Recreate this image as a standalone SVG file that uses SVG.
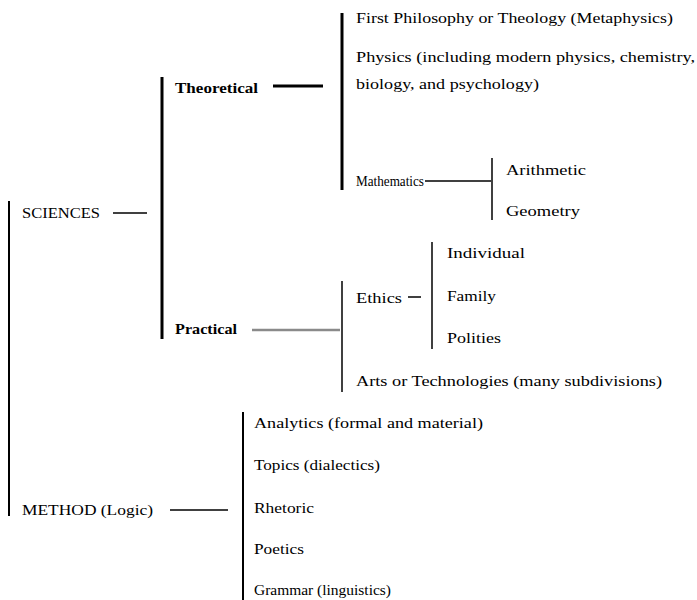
<svg xmlns="http://www.w3.org/2000/svg" width="697" height="600" viewBox="0 0 697 600">
<style>
text{font-family:"Liberation Serif","DejaVu Serif",serif;font-size:15px;fill:#000}
.b{font-weight:bold}
.k{stroke:#000;fill:none}
.t3{stroke-width:3}
.t2{stroke-width:2}
.t15{stroke-width:1.5}
.g{stroke:#8a8a8a;stroke-width:2.5;fill:none}
</style>
<rect width="697" height="600" fill="#fff"/>
<g id="connectors">
<line class="k t2" x1="9" y1="201" x2="9" y2="516"/>
<line class="k t15" x1="113" y1="213" x2="147" y2="213"/>
<line class="k t3" x1="162" y1="77" x2="162" y2="339"/>
<line class="k t3" x1="273" y1="86" x2="323" y2="86"/>
<line class="g" x1="252" y1="330" x2="340" y2="330"/>
<line class="k t3" x1="342" y1="13" x2="342" y2="190"/>
<line class="k t15" x1="425" y1="181" x2="491" y2="181"/>
<line class="k t15" x1="492" y1="158" x2="492" y2="220"/>
<line class="k t15" x1="342" y1="281" x2="342" y2="392"/>
<line class="k t15" x1="408" y1="297" x2="421" y2="297"/>
<line class="k t15" x1="432" y1="242" x2="432" y2="349"/>
<line class="k t15" x1="170" y1="510" x2="228" y2="510"/>
<line class="k t2" x1="243" y1="412" x2="243" y2="600"/>
</g>
<g id="sciences"><text x="22" y="218" textLength="78" lengthAdjust="spacingAndGlyphs">SCIENCES</text></g>
<g id="theoretical"><text class="b" x="175" y="93" textLength="83" lengthAdjust="spacingAndGlyphs">Theoretical</text></g>
<g id="practical"><text class="b" x="175" y="334" textLength="62" lengthAdjust="spacingAndGlyphs">Practical</text></g>
<g id="metaphysics"><text x="356" y="23" textLength="317" lengthAdjust="spacingAndGlyphs">First Philosophy or Theology (Metaphysics)</text></g>
<g id="physics"><text x="356" y="62" textLength="339" lengthAdjust="spacingAndGlyphs">Physics (including modern physics, chemistry,</text><text x="356" y="89" textLength="183" lengthAdjust="spacingAndGlyphs">biology, and psychology)</text></g>
<g id="mathematics"><text x="356" y="186" textLength="68" lengthAdjust="spacingAndGlyphs">Mathematics</text></g>
<g id="arithmetic"><text x="506" y="175" textLength="80" lengthAdjust="spacingAndGlyphs">Arithmetic</text></g>
<g id="geometry"><text x="506" y="216" textLength="74" lengthAdjust="spacingAndGlyphs">Geometry</text></g>
<g id="ethics"><text x="356" y="303" textLength="46" lengthAdjust="spacingAndGlyphs">Ethics</text></g>
<g id="individual"><text x="447" y="258" textLength="78" lengthAdjust="spacingAndGlyphs">Individual</text></g>
<g id="family"><text x="447" y="301" textLength="49" lengthAdjust="spacingAndGlyphs">Family</text></g>
<g id="polities"><text x="447" y="343" textLength="54" lengthAdjust="spacingAndGlyphs">Polities</text></g>
<g id="arts"><text x="356" y="386" textLength="306" lengthAdjust="spacingAndGlyphs">Arts or Technologies (many subdivisions)</text></g>
<g id="method"><text x="22" y="515" textLength="131" lengthAdjust="spacingAndGlyphs">METHOD (Logic)</text></g>
<g id="analytics"><text x="254" y="428" textLength="229" lengthAdjust="spacingAndGlyphs">Analytics (formal and material)</text></g>
<g id="topics"><text x="254" y="470" textLength="126" lengthAdjust="spacingAndGlyphs">Topics (dialectics)</text></g>
<g id="rhetoric"><text x="254" y="513" textLength="60" lengthAdjust="spacingAndGlyphs">Rhetoric</text></g>
<g id="poetics"><text x="254" y="554" textLength="50" lengthAdjust="spacingAndGlyphs">Poetics</text></g>
<g id="grammar"><text x="254" y="595" textLength="137" lengthAdjust="spacingAndGlyphs">Grammar (linguistics)</text></g>
</svg>
